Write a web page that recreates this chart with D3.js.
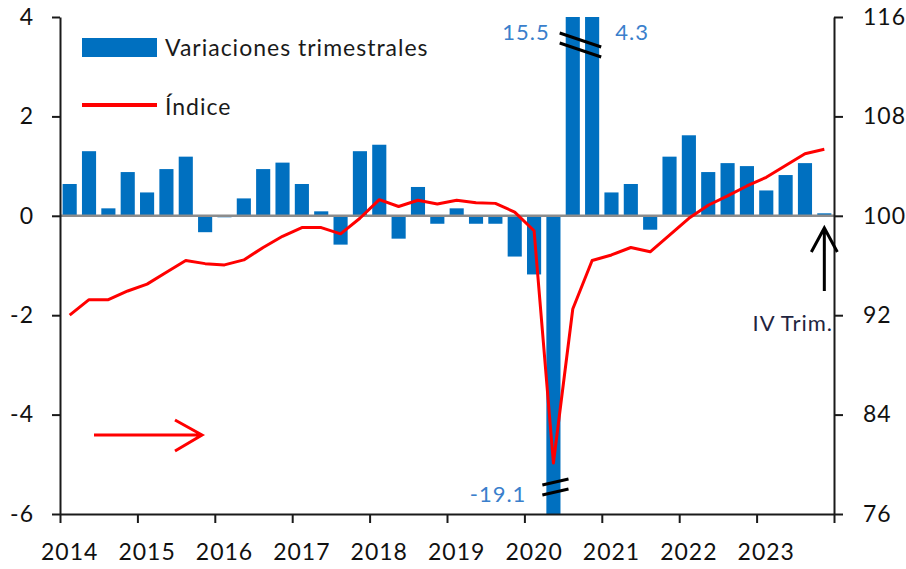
<!DOCTYPE html>
<html><head><meta charset="utf-8">
<script src="https://cdn.jsdelivr.net/npm/d3@7"></script>
<style>
html,body{margin:0;padding:0;background:#fff;}
svg{display:block;font-family:Lato,"Open Sans",sans-serif;}
</style></head>
<body>
<svg id="chart" width="906" height="569"></svg>
<script>
const years = ["2014","2015","2016","2017","2018","2019","2020","2021","2022","2023"];
const quarters = years.flatMap(y => ["I","II","III","IV"].map(q => y + "-" + q));
const variaciones = [
  0.64, 1.30, 0.15, 0.88,
  0.47, 0.94, 1.19, -0.33,
  -0.03, 0.35, 0.94, 1.07,
  0.64, 0.09, -0.58, 1.30,
  1.43, -0.46, 0.58, -0.16,
  0.15, -0.16, -0.16, -0.82,
  -1.18, -19.1, 15.5, 4.3,
  0.47, 0.64, -0.28, 1.19,
  1.62, 0.88, 1.06, 1.00,
  0.51, 0.82, 1.06, 0.05
];
const indice = [
  92.0, 93.25, 93.25, 93.95,
  94.5, 95.45, 96.4, 96.15,
  96.05, 96.45, 97.45, 98.35,
  99.05, 99.05, 98.55, 99.8,
  101.3, 100.75, 101.25, 100.95,
  101.25, 101.05, 101.0, 100.3,
  98.8, 80.1, 92.5, 96.4,
  96.85, 97.45, 97.1, 98.45,
  99.8, 100.85, 101.6, 102.4,
  103.1, 104.05, 105.0, 105.35
];
const leftTicks = [-6, -4, -2, 0, 2, 4];
const rightTicks = [76, 84, 92, 100, 108, 116];
const breakLabels = ["15.5", "4.3", "-19.1"];

const L = 60, R = 834, T = 17, B = 514;
const svg = d3.select("#chart");
const blue = "#0070c0", red = "#ff0000", labelBlue = "#3a7fcc";
const FONT = "Lato, 'Open Sans', sans-serif";

const x = d3.scaleBand().domain(quarters).range([L, R]).paddingInner(0.27).paddingOuter(0.135);
const xq = d3.scaleLinear().domain([0, quarters.length]).range([L, R]);
const yL = d3.scaleLinear().domain([-6, 4]).range([B, T]);
const yR = d3.scaleLinear().domain([76, 116]).range([B, T]);

// bars (clipped to the axis range)
const clamp = v => Math.max(-6, Math.min(4, v));
svg.append("g").selectAll("rect").data(variaciones).join("rect")
  .attr("x", (d, i) => x(quarters[i]))
  .attr("width", x.bandwidth())
  .attr("y", d => yL(Math.max(0, clamp(d))))
  .attr("height", d => Math.abs(yL(clamp(d)) - yL(0)))
  .attr("fill", blue);

// zero line
svg.append("line").attr("x1", L).attr("x2", R).attr("y1", yL(0)).attr("y2", yL(0))
  .attr("stroke", "#8c8c8c").attr("stroke-width", 2.5);

// index line
const line = d3.line().x((d, i) => x(quarters[i]) + x.bandwidth() / 2).y(d => yR(d));
svg.append("path").datum(indice).attr("d", line)
  .attr("fill", "none").attr("stroke", red).attr("stroke-width", 3).attr("stroke-linejoin", "round");

// break marks
function breakMarks(x1, x2, yc, dy) {
  [-5, 5].forEach(off => {
    svg.append("line").attr("x1", x1).attr("x2", x2)
      .attr("y1", yc + off - dy / 2).attr("y2", yc + off + dy / 2)
      .attr("stroke", "#000").attr("stroke-width", 3);
  });
}
const xs3 = x("2020-III"), xs4 = x("2020-IV"), xs2 = x("2020-II");
breakMarks(xs3 - 6, xs4 + x.bandwidth() + 2, yL(4) + 28, 14);
breakMarks(xs2 - 4, xs2 + x.bandwidth() + 8, yL(-6) - 27, -6);

// break labels
const lab = (xx, yy, anchor, t) => svg.append("text").attr("x", xx).attr("y", yy).attr("text-anchor", anchor)
  .attr("fill", labelBlue).attr("font-size", 22).attr("letter-spacing", 1).text(t);
lab(xs3 - 16, 40, "end", breakLabels[0]);
lab(xs4 + x.bandwidth() + 16, 40, "start", breakLabels[1]);
lab(xs2 - 20, 502, "end", breakLabels[2]);

// axes
const axisStyle = g => {
  g.select(".domain").attr("stroke", "#1a1a1a").attr("stroke-width", 2);
  g.selectAll(".tick line").attr("stroke", "#1a1a1a").attr("stroke-width", 2);
  g.selectAll("text").attr("fill", "#111").attr("font-size", 23).attr("letter-spacing", 1).attr("font-family", FONT);
};
svg.append("g").attr("transform", `translate(${L},0)`)
  .call(d3.axisLeft(yL).tickValues(leftTicks).tickSize(8).tickSizeOuter(0).tickPadding(18).tickFormat(d => String(d)))
  .call(axisStyle);
svg.append("g").attr("transform", `translate(${R},0)`)
  .call(d3.axisRight(yR).tickValues(rightTicks).tickSize(9).tickSizeOuter(0).tickPadding(20))
  .call(axisStyle);
svg.append("g").attr("transform", `translate(0,${B})`)
  .call(d3.axisBottom(xq).tickValues(d3.range(0, quarters.length + 1, 4)).tickSize(9).tickSizeOuter(0).tickFormat(""))
  .call(axisStyle);
svg.append("g").attr("transform", `translate(0,${B})`)
  .call(d3.axisBottom(x).tickValues(years.map(y => y + "-I")).tickSize(0).tickPadding(30).tickFormat(d => d.slice(0, 4)))
  .call(axisStyle)
  .call(g => g.select(".domain").remove());

// legend
svg.append("rect").attr("x", 82).attr("y", 38).attr("width", 75).attr("height", 19).attr("fill", blue);
svg.append("text").attr("x", 165).attr("y", 56).attr("font-size", 23).attr("letter-spacing", 1).attr("fill", "#1a1a1a").text("Variaciones trimestrales");
svg.append("line").attr("x1", 82).attr("x2", 157).attr("y1", 105).attr("y2", 105).attr("stroke", red).attr("stroke-width", 4);
svg.append("text").attr("x", 165).attr("y", 115).attr("font-size", 23).attr("letter-spacing", 1).attr("fill", "#1a1a1a").text("Índice");

// red arrow (index on right axis)
svg.append("path").attr("d", "M94,435 L202,435 M175,420 L202,435 L175,451")
  .attr("fill", "none").attr("stroke", red).attr("stroke-width", 3);

// IV Trim. arrow
const xLast = x("2023-IV") + x.bandwidth() / 2;
svg.append("path").attr("d", `M${xLast},291 L${xLast},228 M${xLast - 13},252 L${xLast},228 L${xLast + 13},252`)
  .attr("fill", "none").attr("stroke", "#000").attr("stroke-width", 3);
svg.append("text").attr("x", 833).attr("y", 331).attr("text-anchor", "end")
  .attr("font-size", 22).attr("letter-spacing", 1).attr("fill", "#1f2540").text("IV Trim.");
</script>
</body></html>
